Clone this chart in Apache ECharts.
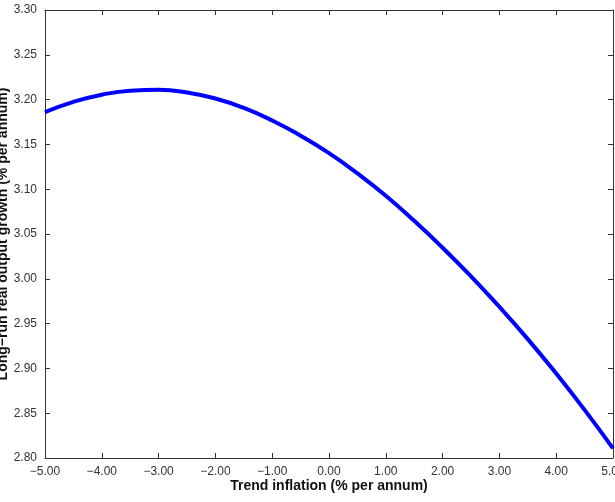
<!DOCTYPE html>
<html>
<head>
<meta charset="utf-8">
<title>Long-run growth vs trend inflation</title>
<script src="https://cdn.jsdelivr.net/npm/echarts@6/dist/echarts.min.js"></script>
<style>
  html, body { margin: 0; padding: 0; background: #fff; }
  #chart { width: 615px; height: 502px; }
</style>
</head>
<body>
<div id="chart"></div>
<script>
// ============ Data ============
const inflation = [-5.0, -4.5, -4.0, -3.5, -3.0, -2.5, -2.0, -1.5, -1.0, -0.5, 0.0,
  0.5, 1.0, 1.5, 2.0, 2.5, 3.0, 3.5, 4.0, 4.5, 5.0]
const growth = [3.1860, 3.1975, 3.2055, 3.2100, 3.2110, 3.2080, 3.2012, 3.1907, 3.1767, 3.1597, 3.1402,
  3.1177, 3.0927, 3.0647, 3.0347, 3.0027, 2.9687, 2.9327, 2.8942, 2.8537, 2.8107]
const xTicks = { min: -5, max: 5, step: 1 }
const yTicks = { min: 2.8, max: 3.3, step: 0.05 }

const fmt = (v) => {
  const s = Math.abs(v).toFixed(2)
  return v < -1e-9 ? '\u2212' + s : s
}

const font = 'Liberation Sans, Arial, Helvetica, sans-serif'
const axisColor = '#333'

const baseAxis = {
  axisLine: { show: true, onZero: false, lineStyle: { color: axisColor, width: 1 } },
  axisTick: { show: true, inside: true, length: 5, lineStyle: { color: axisColor } },
  splitLine: { show: false },
}

const chart = echarts.init(document.getElementById('chart'))
chart.setOption({
  animation: false,
  backgroundColor: '#fff',
  grid: { left: 45, right: 2, top: 10, bottom: 44, outerBoundsMode: 'none', containLabel: false },
  xAxis: [
    {
      ...baseAxis,
      type: 'value',
      min: xTicks.min,
      max: xTicks.max,
      interval: xTicks.step,
      name: 'Trend inflation (% per annum)',
      nameLocation: 'middle',
      nameGap: 21,
      nameMoveOverlap: false,
      nameTextStyle: { fontFamily: font, fontSize: 14, fontWeight: 'bold', color: '#111' },
      axisLabel: {
        margin: 8, fontFamily: font, fontSize: 12, color: axisColor,
        showMinLabel: true, showMaxLabel: true, formatter: fmt,
      },
    },
    {
      ...baseAxis,
      type: 'value',
      position: 'top',
      min: xTicks.min,
      max: xTicks.max,
      interval: xTicks.step,
      axisLabel: { show: false },
    },
  ],
  yAxis: [
    {
      ...baseAxis,
      type: 'value',
      min: yTicks.min,
      max: yTicks.max,
      interval: yTicks.step,
      name: 'Long\u2212run real output growth (% per annum)',
      nameLocation: 'middle',
      nameGap: 35,
      nameMoveOverlap: false,
      nameTextStyle: { fontFamily: font, fontSize: 14, fontWeight: 'bold', color: '#111' },
      axisLabel: { margin: 8, fontFamily: font, fontSize: 12, color: axisColor, formatter: fmt },
    },
    {
      ...baseAxis,
      type: 'value',
      position: 'right',
      min: yTicks.min,
      max: yTicks.max,
      interval: yTicks.step,
      axisLabel: { show: false },
    },
  ],
  series: [
    {
      type: 'line',
      smooth: true,
      showSymbol: false,
      data: inflation.map((x, i) => [x, growth[i]]),
      lineStyle: { color: '#0000ff', width: 4 },
      itemStyle: { color: '#0000ff' },
    },
  ],
})
</script>
</body>
</html>
